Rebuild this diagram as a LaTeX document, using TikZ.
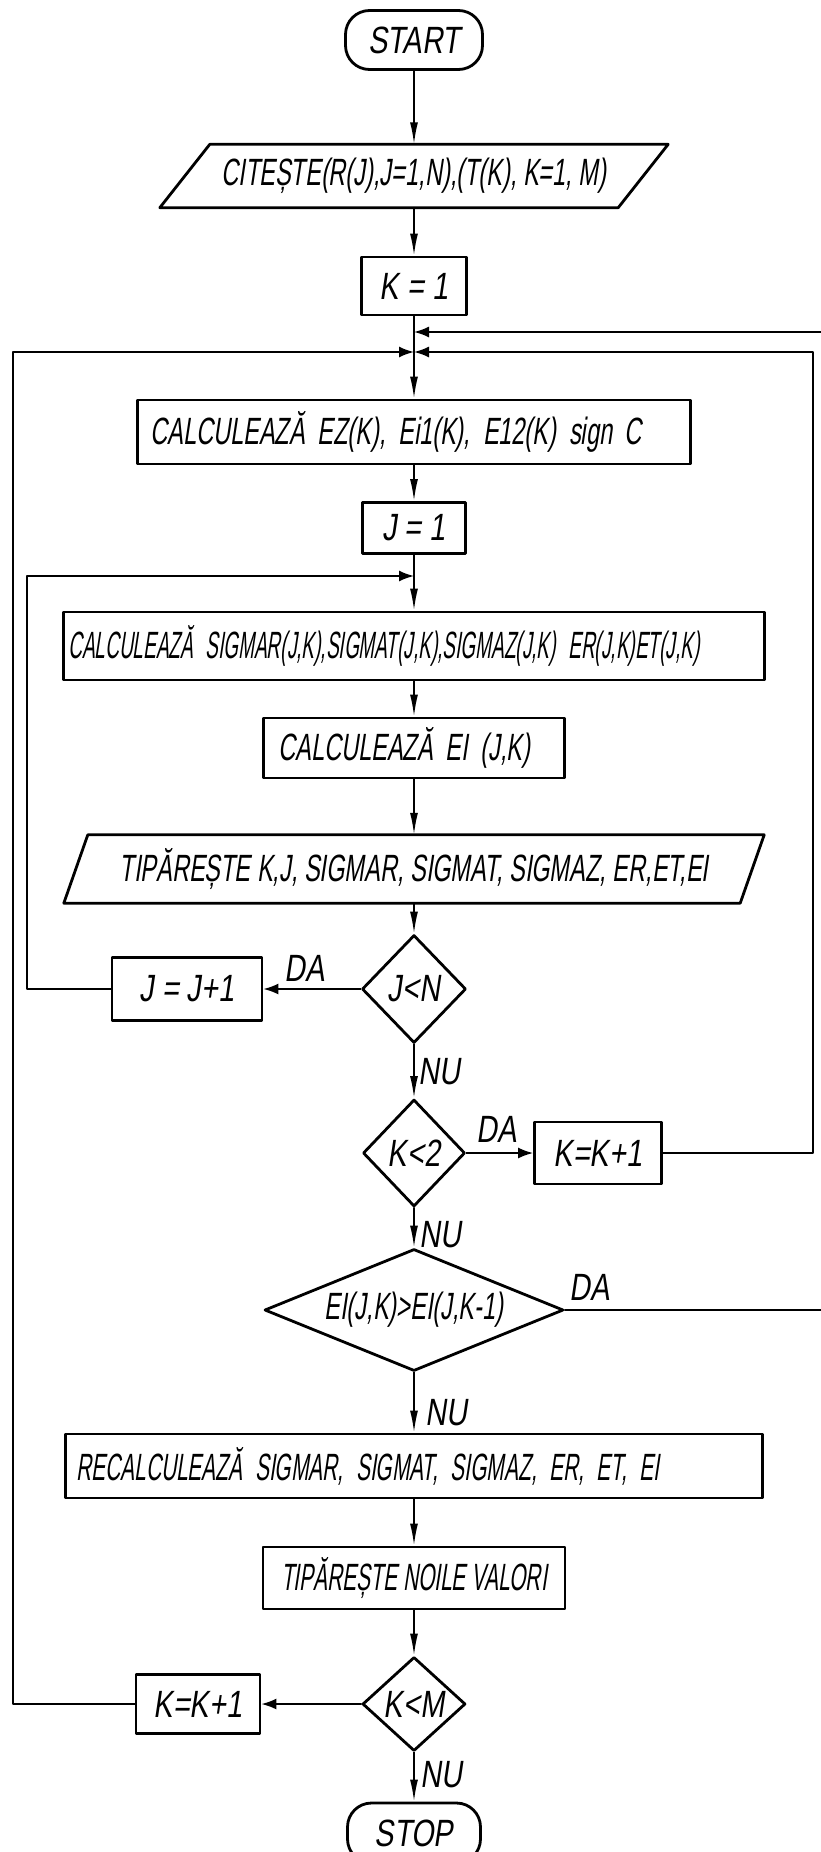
\documentclass[tikz,border=0pt]{standalone}
\usepackage{fontspec}
\usetikzlibrary{shapes.geometric,arrows.meta}

% hand lettering: narrow, slightly slanted capitals
\newfontfamily\handfont{Liberation Sans}[FakeStretch=0.62,FakeSlant=0.15]
\newfontfamily\handnarrowfont{Liberation Sans}[FakeStretch=0.55,FakeSlant=0.15]
\newfontfamily\handtightfont{Liberation Sans}[FakeStretch=0.5,FakeSlant=0.15]
\newfontfamily\handwidefont{Liberation Sans}[FakeStretch=0.76,FakeSlant=0.15]
\newcommand\letterfont{\handfont\fontsize{38}{42}\selectfont}
\newcommand\letternarrow{\handnarrowfont\fontsize{38}{42}\selectfont}
\newcommand\lettertight{\handtightfont\fontsize{38}{42}\selectfont}
\newcommand\letterwide{\handwidefont\fontsize{38}{42}\selectfont}

\begin{document}
\begin{tikzpicture}[x=1pt, y=-1pt, line cap=round, line join=round,
  every node/.style={font=\letterfont},
  box/.style={draw, rectangle, line width=2.8pt, inner sep=0pt},
  term/.style={box, rounded corners=24pt},
  decision/.style={draw, diamond, line width=2.8pt, inner sep=0pt, font=\letterwide},
  wire/.style={line width=1.8pt},
  flow/.style={wire, -{Latex[length=22pt,width=8pt]}},
  back/.style={wire, -{Latex[length=15pt,width=11pt]}},
  answer/.style={font=\letterwide, inner sep=0pt}]

% -----------------------
% Parameters
% -----------------------
\def\mx{414}     % main column
\def\sl{12}      % half slant of the print box

\useasboundingbox (0,0) rectangle (821,1852);
\fill[white] (0,0) rectangle (821,1852);

% -----------------------
% Main column
% -----------------------
\node[term, minimum width=137pt, minimum height=59pt, font=\letterwide] (start) at (\mx,40) {START};

\node[inner sep=0pt, minimum width=458pt, minimum height=63pt] (read) at (\mx,176) {CITEȘTE(R(J),J=1,N),(T(K), K=1, M)};
\draw[line width=2.8pt] ([xshift=25pt]read.north west) -- ([xshift=25pt]read.north east)
  -- ([xshift=-25pt]read.south east) -- ([xshift=-25pt]read.south west) -- cycle;

\node[box, minimum width=105pt, minimum height=58pt, font=\letterwide] (k1) at (\mx,286) {K = 1};

\node[box, inner xsep=13pt, text width=527pt, align=left, minimum height=64pt] (ez) at (\mx,432)
  {CALCULEAZĂ EZ(K), Ei1(K), E12(K) sign C};

\node[box, minimum width=103pt, minimum height=51pt, font=\letterwide] (j1) at (\mx,528) {J = 1};

\node[box, inner xsep=5pt, text width=691pt, align=left, minimum height=68pt, font=\lettertight] (sig) at (\mx,646)
  {CALCULEAZĂ SIGMAR(J,K),SIGMAT(J,K),SIGMAZ(J,K) ER(J,K)ET(J,K)};

\node[box, inner xsep=15pt, text width=271pt, align=left, minimum height=60pt] (ei) at (\mx,748)
  {CALCULEAZĂ EI (J,K)};

\node[inner sep=0pt, minimum width=676pt, minimum height=68pt] (print) at (\mx,869)
  {TIPĂREȘTE K,J, SIGMAR, SIGMAT, SIGMAZ, ER,ET,EI};
\draw[line width=2.8pt] ([xshift=\sl pt]print.north west) -- ([xshift=\sl pt]print.north east)
  -- ([xshift=-\sl pt]print.south east) -- ([xshift=-\sl pt]print.south west) -- cycle;

\node[decision, minimum width=104pt, minimum height=108pt] (dJN) at (\mx,989) {J<N};
\node[decision, minimum width=102pt, minimum height=107pt] (dK2) at (\mx,1153) {K<2};
\node[decision, aspect=2.45, minimum width=299pt, minimum height=122pt, font=\letterfont] (dEI) at (\mx,1310) {EI(J,K)>EI(J,K-1)};

\node[box, inner xsep=11pt, text width=675pt, align=left, minimum height=64pt, font=\letternarrow] (rec) at (\mx,1466)
  {RECALCULEAZĂ SIGMAR, SIGMAT, SIGMAZ, ER, ET, EI};

\node[box, minimum width=302pt, minimum height=62pt, font=\letternarrow] (new) at (\mx,1578) {TIPĂREȘTE NOILE VALORI};

\node[decision, minimum width=103pt, minimum height=94pt] (dKM) at (\mx,1704) {K<M};

\node[term, minimum width=133pt, minimum height=60pt, font=\letterwide] (stop) at (\mx,1833) {STOP};

% -----------------------
% Counter boxes
% -----------------------
\node[box, minimum width=150pt, minimum height=63pt, font=\letterwide] (jinc) at (187,989) {J = J+1};
\node[box, minimum width=127pt, minimum height=62pt, font=\letterwide] (kinc1) at (598,1153) {K=K+1};
\node[box, minimum width=124pt, minimum height=59pt, font=\letterwide] (kinc2) at (198,1704) {K=K+1};

% junctions on the main line and loop corners
\coordinate (inA) at (\mx,332);
\coordinate (inB) at (\mx,352);
\coordinate (inC) at (\mx,576);
\coordinate (farR) at (827,332);
\coordinate (nearR) at (813,352);
\coordinate (farL) at (13,352);
\coordinate (nearL) at (27,576);

% -----------------------
% Forward flow
% -----------------------
\draw[flow] (start) -- (read);
\draw[flow] (read) -- (k1);
\draw[flow] (k1) -- (ez);
\draw[flow] (ez) -- (j1);
\draw[flow] (j1) -- (sig);
\draw[flow] (sig) -- (ei);
\draw[flow] (ei) -- (print);
\draw[flow] (print) -- (dJN);
\draw[flow] (dJN) -- (dK2);
\draw[flow] (dK2) -- (dEI);
\draw[flow] (dEI) -- (rec);
\draw[flow] (rec) -- (new);
\draw[flow] (new) -- (dKM);
\draw[flow] (dKM) -- (stop);

% -----------------------
% Branches and loops
% -----------------------
\draw[back] (dJN) -- (jinc);
\draw[back] (jinc) -| (nearL) -- (inC);

\draw[back] (dK2) -- (kinc1);
\draw[back] (kinc1) -| (nearR) -- (inB);

\draw[back] (dEI) -| (farR) -- (inA);

\draw[back] (dKM) -- (kinc2);
\draw[back] (kinc2) -| (farL) -- (inB);

% -----------------------
% Answers
% -----------------------
\node[answer] (daJN) at (305,968) {DA};
\node[answer] (nuJN) at (439,1072) {NU};
\node[answer] (daK2) at (497,1129) {DA};
\node[answer] (nuK2) at (440,1235) {NU};
\node[answer] (daEI) at (590,1287) {DA};
\node[answer] (nuEI) at (446,1413) {NU};
\node[answer] (nuKM) at (441,1775) {NU};

\end{tikzpicture}
\end{document}
